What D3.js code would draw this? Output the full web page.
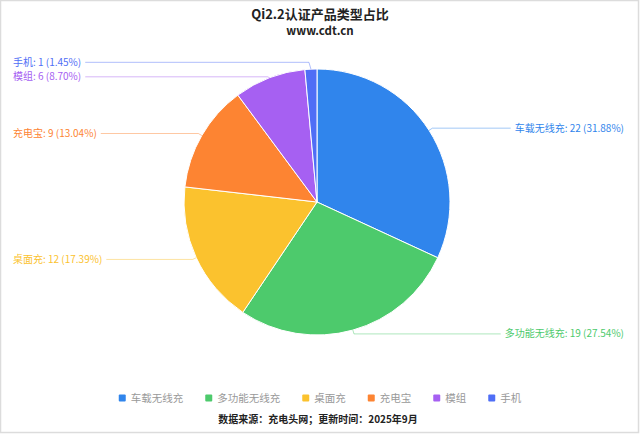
<!DOCTYPE html>
<html><head><meta charset="utf-8">
<script src="https://cdn.jsdelivr.net/npm/d3@7"></script>
<style>body{margin:0;background:#fff}svg{display:block}</style>
</head><body>
<svg id="c" width="640" height="434"></svg>
<script>
const categories = ["车载无线充","多功能无线充","桌面充","充电宝","模组","手机"];
const values = [22,19,12,9,6,1];
const colors = ["#3085ec","#4dca6c","#fbc22e","#fd8432","#a660f2","#4f6ef6"];
const titleText = "Qi2.2认证产品类型占比";
const subtitleText = "www.cdt.cn";
const footerText = "数据来源：充电头网；更新时间：2025年9月";

const W=640,H=434, cx=317, cy=202, R=133;
const svg=d3.select("#c");
const font="'Noto Sans CJK SC','Noto Sans',sans-serif";
svg.append("rect").attr("x",0.5).attr("y",0.5).attr("width",W-2).attr("height",H-2)
  .attr("fill","#fff").attr("stroke","#dcdcdc").attr("stroke-width",1.5);

svg.append("text").attr("x",320).attr("y",19).attr("text-anchor","middle")
  .attr("font-family",font).attr("font-weight","bold").attr("font-size",13).attr("fill","#222").text(titleText);
svg.append("text").attr("x",320).attr("y",35).attr("text-anchor","middle")
  .attr("font-family",font).attr("font-weight","bold").attr("font-size",11.5).attr("fill","#222").text(subtitleText);

const total=d3.sum(values);
const data=categories.map((c,i)=>({name:c,value:values[i],color:colors[i]}));
const pie=d3.pie().value(d=>d.value).sort(null);
const arcs=pie(data);
const arc=d3.arc().innerRadius(0).outerRadius(R);
const g=svg.append("g").attr("transform",`translate(${cx},${cy})`);
g.selectAll("path").data(arcs).join("path").attr("d",arc)
  .attr("fill",d=>d.data.color).attr("stroke","#fff").attr("stroke-width",1);

// labels
const L1=4, fs=10, GAP=14.5;
const labs=arcs.map(a=>{
  const m=(a.startAngle+a.endAngle)/2;
  const sx=cx+R*Math.sin(m), sy=cy-R*Math.cos(m);
  const bx=cx+(R+L1)*Math.sin(m), by=cy-(R+L1)*Math.cos(m);
  return {a, m, sx, sy, bx, by, y:by, right: Math.sin(m)>=0};
});
["left","right"].forEach(side=>{
  const arr=labs.filter(l=>(side==="right")===l.right).sort((p,q)=>p.y-q.y);
  for(let it=0;it<20;it++){
    for(let i=1;i<arr.length;i++){
      const d=arr[i].y-arr[i-1].y;
      if(d<GAP){ const s=(GAP-d)/2; arr[i].y+=s; arr[i-1].y-=s; }
    }
  }
});
const pct=v=>(v/total*100).toFixed(2)+"%";
labs.forEach(l=>{
  const d=l.a.data;
  const txt=svg.append("text").attr("y",l.y).attr("dy","0.35em")
    .attr("font-family",font).attr("font-size",fs).attr("fill",d.color)
    .text(`${d.name}: ${d.value} (${pct(d.value)})`);
  let ex;
  if(l.right){ txt.attr("x",624).attr("text-anchor","end");
    ex=624-txt.node().getComputedTextLength()-4; }
  else { txt.attr("x",13).attr("text-anchor","start");
    ex=13+txt.node().getComputedTextLength()+4; }
  const moved=Math.abs(l.y-l.by)>0.5;
  const bx = moved ? l.sx + (l.right?2:-2) : l.bx;
  svg.append("polyline").attr("points",`${l.sx},${l.sy} ${bx},${l.y} ${ex},${l.y}`)
    .attr("fill","none").attr("stroke",d.color).attr("stroke-opacity",0.45).attr("stroke-width",1);
});

// legend
const lg=svg.append("g");
let x=0;
data.forEach(d=>{
  const it=lg.append("g").attr("transform",`translate(${x},0)`);
  it.append("rect").attr("x",0).attr("y",-3.5).attr("width",7).attr("height",7).attr("rx",1).attr("fill",d.color);
  const t=it.append("text").attr("x",12).attr("y",0).attr("dy","0.35em").attr("font-family",font)
    .attr("font-size",10.5).attr("fill","#999").text(d.name);
  x+=12+t.node().getComputedTextLength()+22;
});
const lw=x-22;
lg.attr("transform",`translate(${320-lw/2},398)`);

svg.append("text").attr("x",318).attr("y",423).attr("text-anchor","middle")
  .attr("font-family",font).attr("font-weight","bold").attr("font-size",10).attr("fill","#222").text(footerText);
</script>
</body></html>
